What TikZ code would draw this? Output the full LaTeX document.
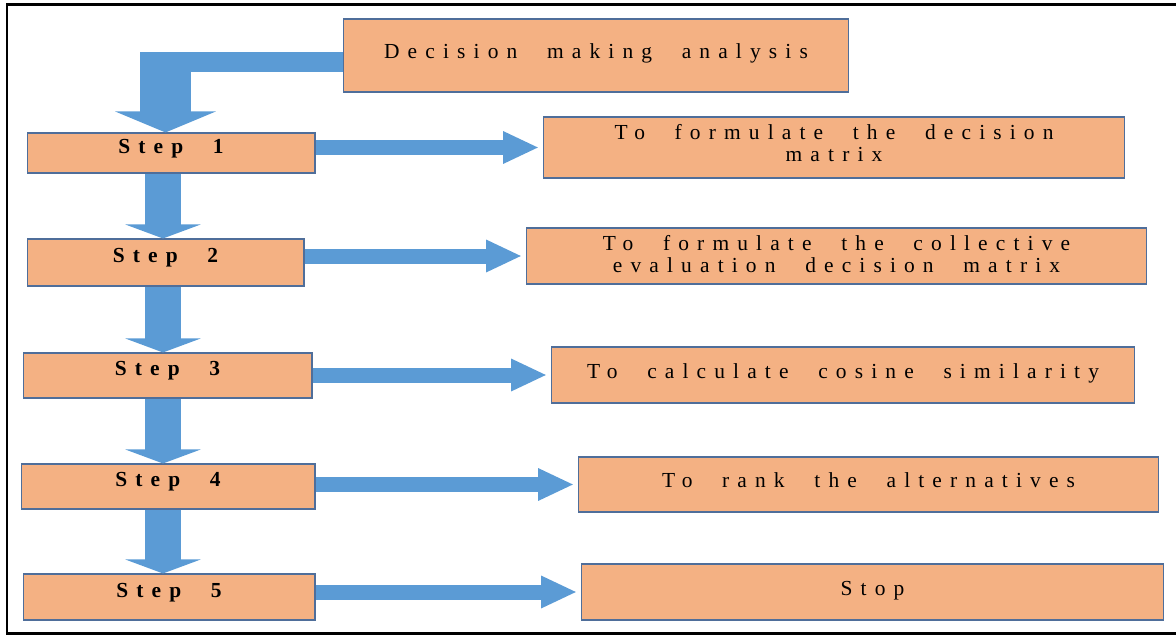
\documentclass[tikz,border=0pt]{standalone}
\usepackage{fontspec}
\setmainfont{Liberation Serif}
\newfontfamily\spaced[LetterSpace=38,WordSpace=2.2]{Liberation Serif}
\usetikzlibrary{arrows.meta,positioning,calc}
\definecolor{boxfill}{HTML}{F4B183}
\definecolor{boxline}{HTML}{4F6E9A}
\definecolor{flowblue}{HTML}{5B9BD5}
\tikzset{
  stepbox/.style={draw=boxline, fill=boxfill, line width=0.6pt, inner sep=0pt,
                  text depth=8pt, font=\spaced\bfseries\fontsize{12.2}{12.6}\selectfont},
  taskbox/.style={draw=boxline, fill=boxfill, line width=0.6pt, inner sep=0pt, align=center,
                  text depth=4.5pt, font=\spaced\fontsize{12.2}{12.6}\selectfont},
  flow/.style={draw=flowblue, line width=3mm, -{Triangle[length=7.2mm,width=6mm]},
               shorten >=0.7mm},
  downflow/.style={draw=flowblue, line width=7.4mm, -{Triangle[length=2.8mm,width=15mm]}},
  bendbar/.style={draw=flowblue, line width=4mm},
  bendflow/.style={draw=flowblue, line width=10.2mm, -{Triangle[length=4.2mm,width=20mm]}},
  frameline/.style={draw=black, line width=0.55mm}
}

\begin{document}
\begin{tikzpicture}[x=0.02cm, y=-0.02cm]
  \useasboundingbox (0,0) rectangle (1176,635);
  \draw[frameline] (1176,4.3) -- (7,4.3) -- (7,633.5) -- (1176,633.5);

  % top box and the steps
  \node[taskbox, minimum width=101.2mm, minimum height=14.6mm] (dma) at (596,55.5)
    {Decision making analysis};
  \node[stepbox, minimum width=57.6mm, minimum height=8mm]   (s1) at (171,153)   {Step 1};
  \node[stepbox, minimum width=55.4mm, minimum height=9.4mm] (s2) at (165.5,262.5) {Step 2};
  \node[stepbox, minimum width=57.8mm, minimum height=9mm]   (s3) at (167.5,375.5) {Step 3};
  \node[stepbox, minimum width=58.8mm, minimum height=9mm]   (s4) at (168,486.5) {Step 4};
  \node[stepbox, minimum width=58.4mm, minimum height=9.2mm] (s5) at (169,597)   {Step 5};

  % what each step does
  \node[taskbox, minimum width=116.4mm, minimum height=12.2mm, text depth=5.6pt] (r1) at (834,147.5)
    {To formulate the decision\\matrix};
  \node[taskbox, minimum width=124.2mm, minimum height=11.2mm, text depth=2.2pt] (r2) at (836.5,256)
    {To formulate the collective\\evaluation decision matrix};
  \node[taskbox, minimum width=116.8mm, minimum height=11.2mm] (r3) at (843,375)
    {To calculate cosine similarity};
  \node[taskbox, minimum width=116.2mm, minimum height=11mm] (r4) at (868.5,484.5)
    {To rank the alternatives};
  \node[taskbox, minimum width=116.6mm, minimum height=11.2mm] (r5) at (872.5,592)
    {Stop};

  % bent arrow into step 1
  \coordinate (bend) at (165.5,62);
  \draw[bendbar] (dma.west |- bend) -- ([xshift=-5.1mm]bend);
  \draw[bendflow] ([yshift=2mm]bend) -- (s1.north -| bend);

  % down the column
  \coordinate (spine) at (163,0);
  \foreach \a/\b in {s1/s2, s2/s3, s3/s4, s4/s5}
    \draw[downflow] (\a.south -| spine) -- (\b.north -| spine);

  % across to the tasks
  \foreach \i in {1,...,5}
    \draw[flow] (s\i.east |- r\i.west) -- (r\i.west);
\end{tikzpicture}
\end{document}
